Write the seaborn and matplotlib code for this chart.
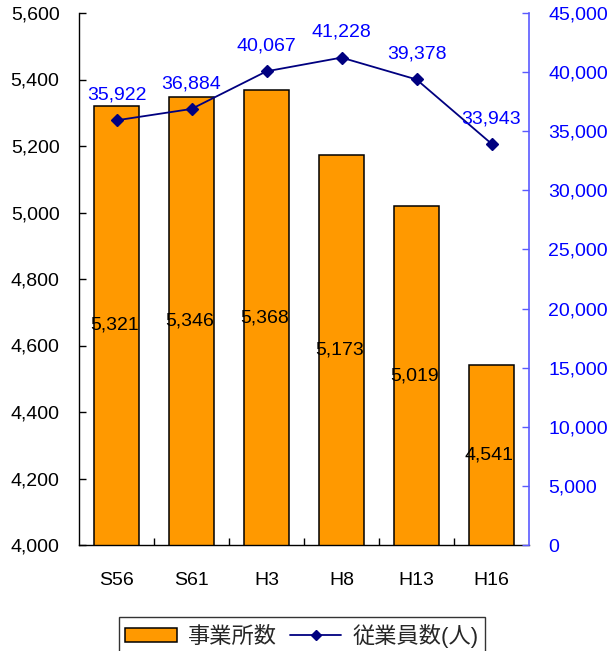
import matplotlib
matplotlib.use("Agg")
import matplotlib.pyplot as plt
import seaborn as sns
import pandas as pd
from matplotlib.patches import Patch
from matplotlib.lines import Line2D
from matplotlib.ticker import FuncFormatter, FixedLocator

categories = ["S56", "S61", "H3", "H8", "H13", "H16"]
establishments = [5321, 5346, 5368, 5173, 5019, 4541]
employees = [35922, 36884, 40067, 41228, 39378, 33943]

sns.set_style("white")
plt.rcParams["font.family"] = ["Liberation Sans", "Noto Sans CJK JP", "DejaVu Sans"]

bar_color = "#FF9900"
line_color = "#000080"
label_blue = "#0000FF"
right_spine = "#5A5AFF"

df = pd.DataFrame({"cat": categories, "est": establishments, "emp": employees})

fig = plt.figure(figsize=(6.1, 6.51), dpi=100)
ax = fig.add_axes([79 / 610, 1 - 545 / 651, (529 - 79) / 610, (545 - 13) / 651])

sns.barplot(data=df, x="cat", y="est", ax=ax, color=bar_color, width=0.59,
            edgecolor="black", linewidth=1.1, saturation=1)
ax.set_ylim(4000, 5600)
ax.set_yticks(range(4000, 5601, 200))
ax.yaxis.set_major_formatter(FuncFormatter(lambda v, p: f"{int(v):,}"))
ax.set_xlim(-0.5, len(categories) - 0.5)
ax.set_xlabel("")
ax.set_ylabel("")

for i, v in enumerate(establishments):
    ax.text(i - 0.03, (4000 + v) / 2, f"{v:,}", ha="center", va="center",
            fontsize=14, color="black")

ax2 = ax.twinx()
sns.pointplot(data=df, x="cat", y="emp", ax=ax2, color=line_color, markers="D",
              linestyles="-", markersize=6, linewidth=1.3, errorbar=None)
ax2.set_ylim(0, 45000)
ax2.set_yticks(range(0, 45001, 5000))
ax2.yaxis.set_major_formatter(FuncFormatter(lambda v, p: f"{int(v):,}"))
ax2.set_xlim(-0.5, len(categories) - 0.5)
ax2.set_xlabel("")
ax2.set_ylabel("")

for i, v in enumerate(employees):
    ax2.annotate(f"{v:,}", (i, v), xytext=(0, 12), textcoords="offset points",
                 ha="center", va="bottom", fontsize=14, color=label_blue)

# spines
for a in (ax, ax2):
    a.spines["top"].set_visible(False)
ax.spines["left"].set_color("black")
ax.spines["bottom"].set_color("black")
ax.spines["right"].set_visible(False)
ax2.spines["left"].set_visible(False)
ax2.spines["bottom"].set_visible(False)
ax2.spines["right"].set_color(right_spine)
ax2.spines["right"].set_linewidth(1.2)
ax.spines["left"].set_linewidth(1.0)
ax.spines["bottom"].set_linewidth(1.0)

# ticks
ax.tick_params(axis="y", direction="in", length=5, width=1, colors="black",
               labelsize=14, pad=14, left=True)
ax2.tick_params(axis="y", direction="in", length=5, width=1, color=right_spine,
                labelcolor=label_blue, labelsize=14, pad=14, right=True)
ax.xaxis.set_minor_locator(FixedLocator([i + 0.5 for i in range(len(categories) - 1)]))
ax.tick_params(axis="x", which="major", length=0, labelsize=14, pad=19.5, colors="black")
ax.tick_params(axis="x", which="minor", direction="in", length=5, width=1, color="black", bottom=True)
ax2.tick_params(axis="x", which="both", length=0)

handles = [
    Patch(facecolor=bar_color, edgecolor="black", linewidth=1.1),
    Line2D([0], [0], color=line_color, marker="D", markersize=5, linewidth=1.3),
]
leg = fig.legend(handles, ["事業所数", "従業員数(人)"], loc="upper center",
                 bbox_to_anchor=(0.495, 1 - 606 / 651), ncol=2, fontsize=16,
                 frameon=True, fancybox=False, edgecolor="black",
                 handlelength=2.3, handleheight=0.6, columnspacing=0.6,
                 handletextpad=0.5, borderpad=0.3)
leg.get_frame().set_linewidth(1.0)

fig.savefig("out.png", dpi=100, facecolor="white")
